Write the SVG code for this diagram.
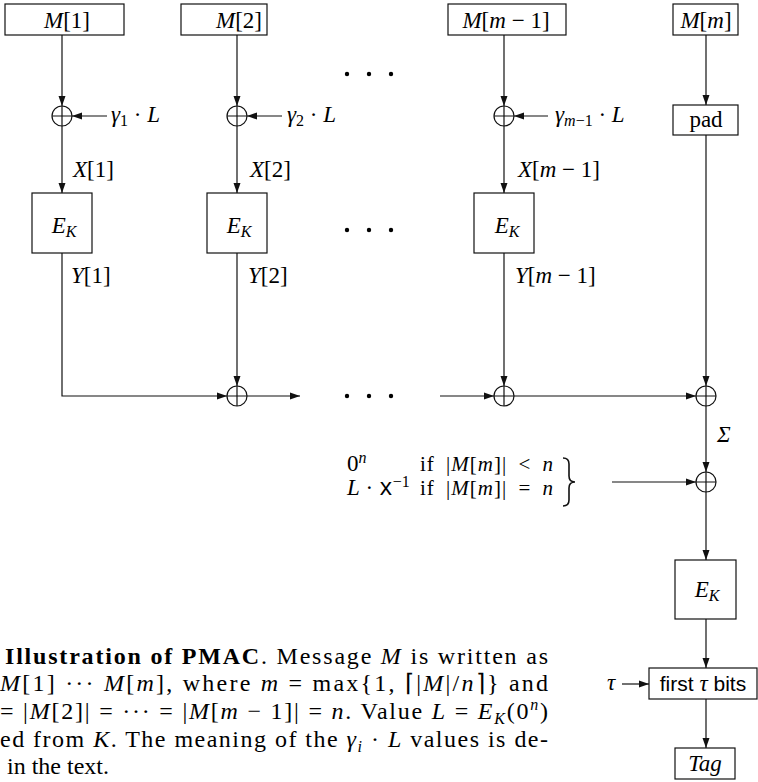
<svg xmlns="http://www.w3.org/2000/svg" width="758" height="782" viewBox="0 0 758 782">
<style>
.ln{stroke:#111;stroke-width:1.2;fill:none}
.bx{fill:#fff;stroke:#111;stroke-width:1.2}
.xr{fill:#fff;stroke:#111;stroke-width:1.2}
.t{font-family:"Liberation Serif","Times New Roman",serif;font-size:23px;fill:#000}
.i{font-style:italic}
.s{font-size:16px}
.sf{font-family:"Liberation Sans",Arial,sans-serif;font-size:21px}
.cs{font-size:21px;letter-spacing:1px;word-spacing:5px}
.cap{font-family:"Liberation Serif","Times New Roman",serif;font-size:24px;fill:#000}
.b{font-weight:bold}
.dot{fill:#000}
</style>
<defs>
<marker id="ah" markerWidth="10" markerHeight="8" refX="10" refY="4" orient="auto" markerUnits="userSpaceOnUse">
<path d="M0,0.5 L10,4 L0,7.5 z" fill="#111"/>
</marker>
</defs>

<g id="connectors">
<line class="ln" x1="62" y1="35" x2="62" y2="106" marker-end="url(#ah)"/>
<line class="ln" x1="237" y1="35" x2="237" y2="106" marker-end="url(#ah)"/>
<line class="ln" x1="504" y1="35" x2="504" y2="106" marker-end="url(#ah)"/>
<line class="ln" x1="706" y1="35" x2="706" y2="105" marker-end="url(#ah)"/>
<line class="ln" x1="107" y1="116" x2="72" y2="116" marker-end="url(#ah)"/>
<line class="ln" x1="282" y1="116" x2="247" y2="116" marker-end="url(#ah)"/>
<line class="ln" x1="548" y1="116" x2="514" y2="116" marker-end="url(#ah)"/>
<line class="ln" x1="62" y1="126" x2="62" y2="193" marker-end="url(#ah)"/>
<line class="ln" x1="237" y1="126" x2="237" y2="193" marker-end="url(#ah)"/>
<line class="ln" x1="504" y1="126" x2="504" y2="193" marker-end="url(#ah)"/>
<polyline class="ln" points="62,253 62,396 227,396" marker-end="url(#ah)"/>
<line class="ln" x1="237" y1="253" x2="237" y2="386" marker-end="url(#ah)"/>
<line class="ln" x1="504" y1="253" x2="504" y2="386" marker-end="url(#ah)"/>
<line class="ln" x1="706" y1="135" x2="706" y2="386" marker-end="url(#ah)"/>
<line class="ln" x1="247" y1="396" x2="300" y2="396" marker-end="url(#ah)"/>
<line class="ln" x1="440" y1="396" x2="494" y2="396" marker-end="url(#ah)"/>
<line class="ln" x1="514" y1="396" x2="696" y2="396" marker-end="url(#ah)"/>
<line class="ln" x1="706" y1="406" x2="706" y2="472" marker-end="url(#ah)"/>
<line class="ln" x1="612" y1="482" x2="696" y2="482" marker-end="url(#ah)"/>
<line class="ln" x1="706" y1="492" x2="706" y2="560" marker-end="url(#ah)"/>
<line class="ln" x1="706" y1="619" x2="706" y2="668" marker-end="url(#ah)"/>
<line class="ln" x1="622" y1="684" x2="649" y2="684" marker-end="url(#ah)"/>
<line class="ln" x1="706" y1="699" x2="706" y2="748" marker-end="url(#ah)"/>
</g>

<g id="m1"><rect class="bx" x="5" y="4" width="119" height="31"/><text class="t" x="67" y="28" text-anchor="middle"><tspan class="i">M</tspan>[1]</text></g>
<g id="m2"><rect class="bx" x="181" y="4" width="86" height="31"/><text class="t" x="239" y="28" text-anchor="middle"><tspan class="i">M</tspan>[2]</text></g>
<g id="mm1"><rect class="bx" x="448" y="4" width="118" height="31"/><text class="t" x="506" y="28" text-anchor="middle"><tspan class="i">M</tspan>[<tspan class="i">m</tspan> − 1]</text></g>
<g id="mm"><rect class="bx" x="673" y="4" width="65" height="31"/><text class="t" x="706" y="28" text-anchor="middle"><tspan class="i">M</tspan>[<tspan class="i">m</tspan>]</text></g>
<g id="pad"><rect class="bx" x="673" y="105" width="65" height="30"/><text class="t" x="706" y="127" text-anchor="middle">pad</text></g>

<g id="xor1"><circle class="xr" cx="62" cy="116" r="10"/><path class="ln" d="M52,116H72M62,106V126"/></g>
<g id="xor2"><circle class="xr" cx="237" cy="116" r="10"/><path class="ln" d="M227,116H247M237,106V126"/></g>
<g id="xor3"><circle class="xr" cx="504" cy="116" r="10"/><path class="ln" d="M494,116H514M504,106V126"/></g>

<g id="g1"><text class="t" x="111" y="122"><tspan class="i">γ</tspan><tspan class="s" dy="4">1</tspan><tspan dy="-4"> · </tspan><tspan class="i">L</tspan></text></g>
<g id="g2"><text class="t" x="287" y="122"><tspan class="i">γ</tspan><tspan class="s" dy="4">2</tspan><tspan dy="-4"> · </tspan><tspan class="i">L</tspan></text></g>
<g id="g3"><text class="t" x="555" y="122"><tspan class="i">γ</tspan><tspan class="s" dy="4"><tspan class="i">m</tspan>−1</tspan><tspan dy="-4"> · </tspan><tspan class="i">L</tspan></text></g>

<g id="x1"><text class="t" x="73" y="177"><tspan class="i">X</tspan>[1]</text></g>
<g id="x2"><text class="t" x="250" y="177"><tspan class="i">X</tspan>[2]</text></g>
<g id="x3"><text class="t" x="518" y="177"><tspan class="i">X</tspan>[<tspan class="i">m</tspan> − 1]</text></g>

<g id="e1"><rect class="bx" x="32" y="193" width="60" height="60"/><text class="t" x="64" y="233" text-anchor="middle"><tspan class="i">E</tspan><tspan class="s i" dy="4">K</tspan></text></g>
<g id="e2"><rect class="bx" x="207" y="193" width="60" height="60"/><text class="t" x="239" y="233" text-anchor="middle"><tspan class="i">E</tspan><tspan class="s i" dy="4">K</tspan></text></g>
<g id="e3"><rect class="bx" x="474" y="193" width="60" height="60"/><text class="t" x="507" y="233" text-anchor="middle"><tspan class="i">E</tspan><tspan class="s i" dy="4">K</tspan></text></g>

<g id="y1"><text class="t" x="71" y="283"><tspan class="i">Y</tspan>[1]</text></g>
<g id="y2"><text class="t" x="248" y="283"><tspan class="i">Y</tspan>[2]</text></g>
<g id="y3"><text class="t" x="515" y="283"><tspan class="i">Y</tspan>[<tspan class="i">m</tspan> − 1]</text></g>

<g id="dots">
<circle class="dot" cx="347" cy="74" r="2.2"/><circle class="dot" cx="369" cy="74" r="2.2"/><circle class="dot" cx="391" cy="74" r="2.2"/>
<circle class="dot" cx="347" cy="230" r="2.2"/><circle class="dot" cx="369" cy="230" r="2.2"/><circle class="dot" cx="391" cy="230" r="2.2"/>
<circle class="dot" cx="347" cy="396" r="2.2"/><circle class="dot" cx="369" cy="396" r="2.2"/><circle class="dot" cx="391" cy="396" r="2.2"/>
</g>

<g id="xor4"><circle class="xr" cx="237" cy="396" r="10"/><path class="ln" d="M227,396H247M237,386V406"/></g>
<g id="xor5"><circle class="xr" cx="504" cy="396" r="10"/><path class="ln" d="M494,396H514M504,386V406"/></g>
<g id="xor6"><circle class="xr" cx="706" cy="396" r="10"/><path class="ln" d="M696,396H716M706,386V406"/></g>
<g id="sigma"><text class="t i" x="717" y="442">Σ</text></g>
<g id="xor7"><circle class="xr" cx="706" cy="482" r="10"/><path class="ln" d="M696,482H716M706,472V492"/></g>

<g id="cases">
<text class="t" x="347" y="471" font-size="21">0<tspan class="s i" dy="-8">n</tspan></text>
<text class="t" x="347" y="495" font-size="21"><tspan class="i">L</tspan> · <tspan font-family="Liberation Mono, monospace">x</tspan><tspan class="s" dy="-8">−1</tspan></text>
<text class="t cs" x="420" y="471">if |<tspan class="i">M</tspan>[<tspan class="i">m</tspan>]| &lt; <tspan class="i">n</tspan></text>
<text class="t cs" x="420" y="495">if |<tspan class="i">M</tspan>[<tspan class="i">m</tspan>]| = <tspan class="i">n</tspan></text>
<path d="M563,458 Q569,458 569,464 L569,476 Q569,482 575,482 Q569,482 569,488 L569,500 Q569,506 563,506" fill="none" stroke="#111" stroke-width="1.6"/>
</g>

<g id="ek"><rect class="bx" x="675" y="560" width="61" height="59"/><text class="t" x="707" y="597" text-anchor="middle"><tspan class="i">E</tspan><tspan class="s i" dy="4">K</tspan></text></g>
<g id="tau"><text class="t i" x="607" y="690">τ</text></g>
<g id="first"><rect class="bx" x="649" y="668" width="108" height="31"/><text class="t" x="703" y="691" text-anchor="middle"><tspan class="sf">first </tspan><tspan class="i">τ</tspan><tspan class="sf"> bits</tspan></text></g>
<g id="tag"><rect class="bx" x="675" y="748" width="60" height="31"/><text class="t i" x="705" y="771" text-anchor="middle">Tag</text></g>

<g id="caption">
<text class="cap" x="5" y="664" textLength="543" lengthAdjust="spacing"><tspan class="b">Illustration of PMAC</tspan>. Message <tspan class="i">M</tspan> is written as</text>
<text class="cap" x="0" y="691" textLength="548" lengthAdjust="spacing"><tspan class="i">M</tspan>[1] ··· <tspan class="i">M</tspan>[<tspan class="i">m</tspan>], where <tspan class="i">m</tspan> = max{1, ⌈|<tspan class="i">M</tspan>|/<tspan class="i">n</tspan>⌉} and</text>
<text class="cap" x="0" y="719" textLength="548" lengthAdjust="spacing">= |<tspan class="i">M</tspan>[2]| = ··· = |<tspan class="i">M</tspan>[<tspan class="i">m</tspan> − 1]| = <tspan class="i">n</tspan>. Value <tspan class="i">L</tspan> = <tspan class="i">E</tspan><tspan class="i" font-size="16" dy="5">K</tspan><tspan dy="-5">(0</tspan><tspan font-size="16" class="i" dy="-9">n</tspan><tspan dy="9">)</tspan></text>
<text class="cap" x="0" y="747" textLength="548" lengthAdjust="spacing">ed from <tspan class="i">K</tspan>. The meaning of the <tspan class="i">γ</tspan><tspan class="i" font-size="16" dy="5">i</tspan><tspan dy="-5"> · </tspan><tspan class="i">L</tspan> values is de-</text>
<text class="cap" x="7" y="774">in the text.</text>
</g>
</svg>
